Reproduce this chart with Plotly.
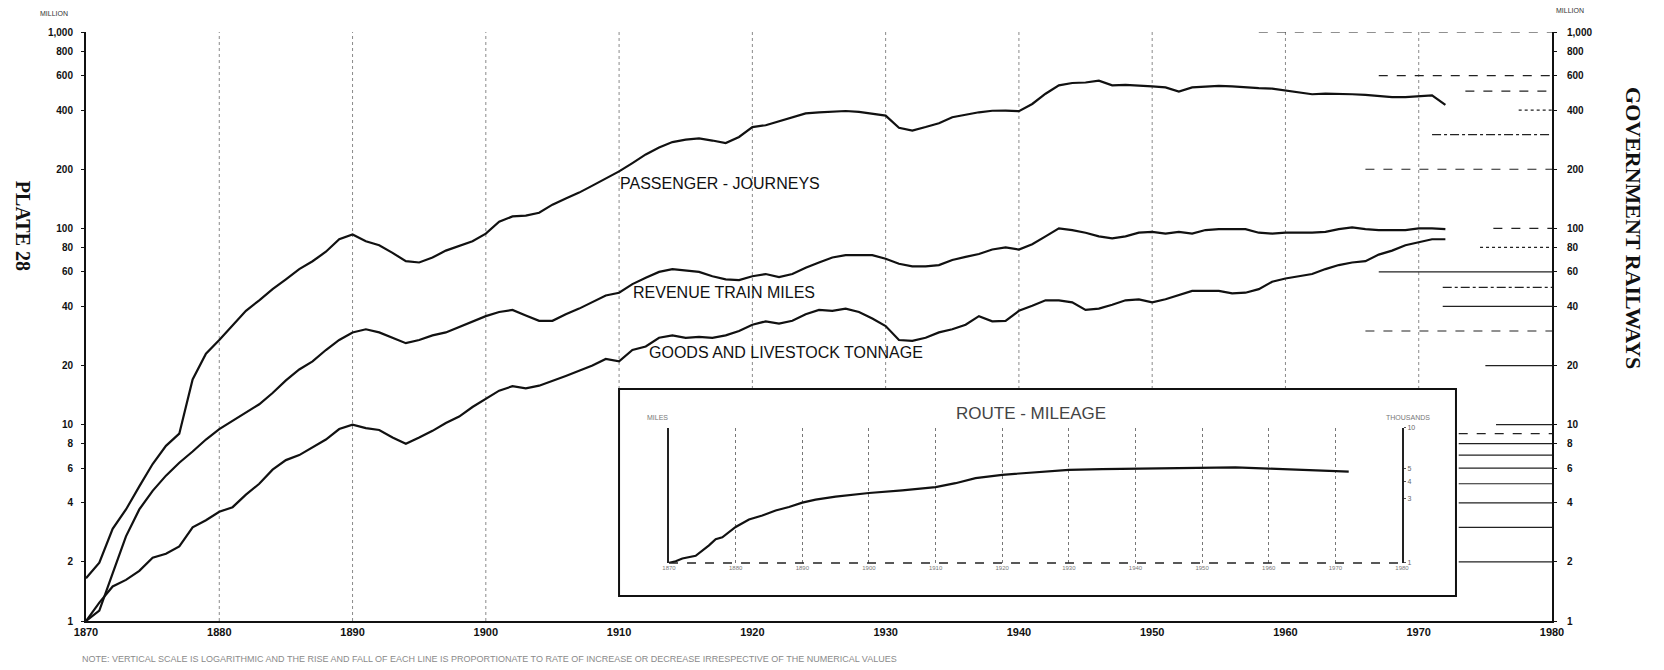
import plotly.graph_objects as go

# ---------------- data (read from the plate) ----------------
years = list(range(1870, 1973))

passenger_journeys = [
    1.65, 1.98, 2.95, 3.7, 4.85, 6.3, 7.8, 9.0, 17, 23,
    27, 32, 38, 43, 49, 55, 62, 68, 76, 88,
    93, 86, 82, 75, 68, 67, 71, 77, 81, 86,
    94, 108, 115, 116, 120, 132, 142, 152, 165, 180,
    195, 215, 238, 258, 275, 283, 287, 280, 272, 292,
    328, 335, 350, 368, 385, 390, 392, 396, 392, 385,
    375, 325, 315, 328, 343, 368, 380, 390, 397, 398,
    395, 430, 485, 535, 550, 553, 565, 535, 538, 535,
    528, 522, 497, 522, 528, 532, 528, 522, 518, 515,
    505, 495, 482, 485, 485, 482, 478, 472, 466, 466,
    470, 476, 425,
]

revenue_train_miles = [
    1.0, 1.13, 1.75, 2.7, 3.7, 4.6, 5.5, 6.4, 7.3, 8.4,
    9.5, 10.5, 11.5, 12.7, 14.5, 16.8, 19.1, 21, 24, 27,
    29.5, 30.6, 29.5, 27.7, 26, 27, 28.5, 29.5, 31.5, 33.6,
    35.7, 37.5, 38.4, 36, 33.8, 33.8, 36.5, 39, 42, 45.5,
    47, 52, 56, 60, 62, 61, 60, 57, 55, 54.5,
    57, 58.5, 56.5, 58.5, 63, 67, 71, 73, 73, 73,
    70, 66, 64, 64, 65, 69, 71.5, 74, 78, 80,
    78, 83, 91, 100, 98, 95, 91, 89, 91, 95,
    96, 94, 96, 94, 98, 99, 99, 99, 95, 94,
    95, 95, 95, 96, 99, 101, 99, 98, 98, 98,
    100, 100, 99,
]

goods_livestock_tonnage = [
    1.0, 1.24, 1.5, 1.62, 1.8, 2.1, 2.2, 2.4, 3.0, 3.26,
    3.6, 3.8, 4.4, 5.0, 5.9, 6.6, 7.0, 7.7, 8.4, 9.5,
    10, 9.6, 9.4, 8.6, 8.0, 8.6, 9.3, 10.2, 11, 12.3,
    13.5, 14.9, 15.7, 15.3, 15.8, 16.8, 17.7, 18.8, 20, 21.6,
    21, 24, 25, 27.7, 28.5, 27.7, 28, 27.7, 28.5, 30,
    32.3, 33.6, 32.7, 33.8, 36.5, 38.4, 38, 39, 37.5, 34.7,
    31.8, 27, 26.7, 27.7, 29.5, 30.6, 32.3, 35.7, 33.6, 33.8,
    38, 40.3, 43, 43, 42, 38.4, 39, 40.8, 43, 43.5,
    42, 43.5, 45.5, 48, 48, 48, 46.6, 47, 49, 53.5,
    55.5, 57, 58.5, 62, 65, 67, 68, 73.5, 77, 82,
    85, 88, 88,
]

route_years = [1870, 1871, 1872, 1874, 1876, 1877, 1878, 1880, 1882, 1884,
               1886, 1888, 1890, 1892, 1895, 1900, 1905, 1910, 1913, 1916,
               1920, 1925, 1930, 1935, 1940, 1945, 1950, 1955, 1960, 1965,
               1970, 1972]
route_mileage = [1.0, 1.03, 1.08, 1.13, 1.35, 1.5, 1.55, 1.85, 2.1, 2.25,
                 2.45, 2.6, 2.8, 2.95, 3.1, 3.3, 3.45, 3.65, 3.9, 4.25,
                 4.5, 4.7, 4.9, 4.95, 5.0, 5.05, 5.1, 5.1, 5.0, 4.9,
                 4.8, 4.75]

decades = list(range(1870, 1990, 10))
decade_labels = [str(d) for d in decades]
y_tickvals = [1, 2, 4, 6, 8, 10, 20, 40, 60, 80, 100, 200, 400, 600, 800, 1000]
y_ticktext = ["1", "2", "4", "6", "8", "10", "20", "40", "60", "80",
              "100", "200", "400", "600", "800", "1,000"]
inset_tickvals = [1, 3, 4, 5, 10]
inset_ticktext = ["1", "3", "4", "5", "10"]

# ruled guide lines at the right edge of the plate (value, starting year, dash)
guide_values = [1000, 600, 500, 400, 300, 200, 100, 80, 60, 50, 40, 30, 20,
                10, 9, 8, 7, 6, 5, 4, 3, 2]
guide_start = [1958, 1967, 1973.5, 1977.5, 1971, 1966, 1975.6, 1974.6, 1967,
               1971.8, 1971.8, 1966, 1975, 1975.8, 1973, 1973, 1973, 1973,
               1973, 1973, 1973, 1973]
guide_dash = ["dash", "dash", "dash", "dot", "dashdot", "dash", "dash", "dot",
              "solid", "dashdot", "solid", "dash", "solid", "solid", "dash",
              "solid", "solid", "solid", "solid", "solid", "solid", "solid"]

# ---------------- figure ----------------
LINE = dict(color="#111111", width=2.2)
fig = go.Figure()
for name, vals in [("Passenger journeys", passenger_journeys),
                   ("Revenue train miles", revenue_train_miles),
                   ("Goods and livestock tonnage", goods_livestock_tonnage)]:
    fig.add_trace(go.Scatter(x=years, y=vals, mode="lines", name=name,
                             line=LINE, xaxis="x", yaxis="y"))
# invisible copy to carry the right-hand scale
fig.add_trace(go.Scatter(x=years, y=passenger_journeys, mode="lines",
                         line=dict(width=0), opacity=0, hoverinfo="skip",
                         showlegend=False, xaxis="x", yaxis="y3"))
# inset route mileage
fig.add_trace(go.Scatter(x=route_years, y=route_mileage, mode="lines",
                         name="Route mileage", line=LINE,
                         xaxis="x2", yaxis="y2"))

tickfont = dict(family="Liberation Sans Narrow, Liberation Sans, Arial",
                size=11, color="#111111", weight="bold")

BOX = dict(x0=0.3636, x1=0.9345, y0=0.0424, y1=0.3939)  # inset frame (y domain)

shapes = []
# dotted decade rulings of the main chart (stop at the inset frame)
for d in decades[1:-1]:
    inside = 1909.8 <= d <= 1972.6
    shapes.append(dict(type="line", xref="x", yref="y domain",
                       x0=d, x1=d, y0=BOX["y1"] if inside else 0, y1=1,
                       line=dict(color="#8a8a8a", width=1, dash="dot"),
                       layer="below"))
# inset frame
shapes.append(dict(type="rect", xref="x domain", yref="y domain",
                   line=dict(color="#111111", width=2),
                   fillcolor="rgba(0,0,0,0)", layer="above", **BOX))
# inset dashed baseline
shapes.append(dict(type="line", xref="x2 domain", yref="y2 domain",
                   x0=0, x1=1, y0=0, y1=0,
                   line=dict(color="#222222", width=1.5, dash="dash")))
for v, s, d in zip(guide_values, guide_start, guide_dash):
    shapes.append(dict(type="line", xref="x", yref="y", x0=s, x1=1980,
                       y0=v, y1=v, line=dict(color="#222222", width=1.2, dash=d),
                       layer="below"))

ann = []
def txt(x, y, text, size, color="#111111", family="Liberation Sans",
        angle=0, weight="normal", xanchor="center"):
    ann.append(dict(x=x, y=y, xref="paper", yref="paper", text=text,
                    showarrow=False, textangle=angle, xanchor=xanchor,
                    yanchor="middle",
                    font=dict(family=family, size=size, color=color,
                              weight=weight)))

txt(0.3629, 0.742, "PASSENGER - JOURNEYS", 16, xanchor="left")
txt(0.3718, 0.557, "REVENUE TRAIN MILES", 16, xanchor="left")
txt(0.3827, 0.4567, "GOODS AND LIVESTOCK TONNAGE", 16, xanchor="left")
txt(0.6446, 0.3531, "ROUTE - MILEAGE", 17, color="#444444")
txt(0.390, 0.346, "MILES", 7, color="#777777")
txt(0.9018, 0.346, "THOUSANDS", 7, color="#777777")
txt(-0.0218, 1.032, "MILLION", 7, color="#333333")
txt(1.0123, 1.037, "MILLION", 7, color="#333333")
txt(-0.0430, 0.671, "PLATE 28", 20, family="Liberation Serif", angle=90,
    weight="bold")
txt(1.056, 0.667, "GOVERNMENT RAILWAYS", 22, family="Liberation Serif",
    angle=90, weight="bold")
txt(-0.004, -0.064, "NOTE: VERTICAL SCALE IS LOGARITHMIC AND THE RISE AND FALL "
    "OF EACH LINE IS PROPORTIONATE TO RATE OF INCREASE OR DECREASE IRRESPECTIVE "
    "OF THE NUMERICAL VALUES", 9, color="#8a8a8a", xanchor="left")

fig.update_layout(
    width=1656, height=662,
    margin=dict(l=78, r=112, t=24, b=49, pad=0),
    paper_bgcolor="white", plot_bgcolor="white",
    showlegend=False,
    font=dict(family="Liberation Sans", color="#111111"),
    shapes=shapes, annotations=ann,
    xaxis=dict(range=[1870, 1980], tickvals=decades, ticktext=decade_labels,
               showline=True, linecolor="#111111", linewidth=2,
               showgrid=False, ticks="", tickfont=tickfont, zeroline=False,
               anchor="y", domain=[0, 1]),
    yaxis=dict(type="log", range=[0, 3], tickvals=y_tickvals,
               ticktext=y_ticktext, showline=True, linecolor="#111111",
               linewidth=2, showgrid=False, ticks="outside", ticklen=3,
               tickcolor="#111111", tickfont=dict(tickfont, size=10),
               ticklabelstandoff=6, anchor="x", domain=[0, 1]),
    yaxis3=dict(type="log", range=[0, 3], tickvals=y_tickvals,
                ticktext=y_ticktext, overlaying="y", side="right",
                showline=True, linecolor="#111111", linewidth=2,
                showgrid=False, ticks="outside", ticklen=3,
                tickcolor="#111111", tickfont=dict(tickfont, size=10),
                ticklabelstandoff=8, anchor="x"),
    xaxis2=dict(range=[1870, 1980], domain=[0.3977, 0.8977], anchor="y2",
                tickvals=decades, ticktext=decade_labels, showline=False,
                showgrid=True, gridcolor="#777777", griddash="dot",
                ticks="", tickfont=dict(size=6, color="#777777"),
                zeroline=False),
    yaxis2=dict(type="log", range=[0, 1], domain=[0.0985, 0.3277],
                anchor="x2", side="right", showline=True, mirror=True,
                linecolor="#222222", linewidth=2, showgrid=False,
                tickvals=inset_tickvals, ticktext=inset_ticktext,
                ticks="outside", ticklen=2, tickcolor="#555555",
                tickfont=dict(size=7, color="#666666")),
)

fig.write_html("out.html")
